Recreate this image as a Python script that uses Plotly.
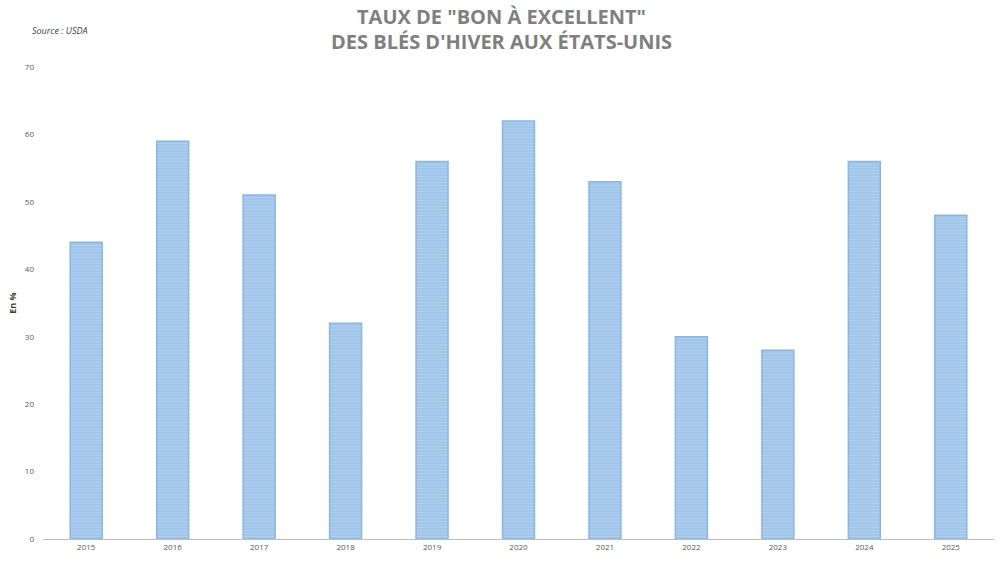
import plotly.graph_objects as go

years = ["2015", "2016", "2017", "2018", "2019", "2020", "2021", "2022", "2023", "2024", "2025"]
values = [44, 59, 51, 32, 56, 62, 53, 30, 28, 56, 48]
y_ticks = [0, 10, 20, 30, 40, 50, 60, 70]
title_lines = ['TAUX DE "BON À EXCELLENT"', "DES BLÉS D'HIVER AUX ÉTATS-UNIS"]

fig = go.Figure(go.Bar(
    x=years, y=values,
    marker=dict(
        color="#a2c6ea",
        line=dict(color="#8ab6e2", width=1.5),
        pattern=dict(shape="-", fgcolor="#bcd7f2", size=3, solidity=0.35),
    ),
    width=0.37,
    hoverinfo="x+y",
))

fig.update_layout(
    width=1000, height=562,
    paper_bgcolor="white", plot_bgcolor="white",
    margin=dict(l=43, r=6, t=67, b=23),
    showlegend=False,
    font=dict(family="Open Sans", size=8, color="#595959"),
)

for txt, yy in zip(title_lines, [1.106, 1.053]):
    fig.add_annotation(text="<b>" + txt + "</b>", xref="paper", yref="paper",
                       x=0.4816, y=yy, xanchor="center", yanchor="middle", showarrow=False,
                       font=dict(family="Open Sans", size=20, color="#7f7f7f"))

fig.add_annotation(text="<i>Source : USDA</i>", xref="paper", yref="paper",
                   x=-0.0137, y=1.078, xanchor="left", yanchor="middle", showarrow=False,
                   font=dict(size=9, color="#404040", family="Open Sans"))

fig.update_xaxes(
    showline=True, linecolor="#bfbfbf", linewidth=1,
    ticks="", showgrid=False,
    tickfont=dict(size=8, color="#595959"),
)
fig.update_yaxes(
    range=[0, 70], tickvals=y_ticks, showgrid=False, zeroline=False,
    showline=False, ticks="",
    tickfont=dict(size=8, color="#595959"),
    ticklabelstandoff=8,
    title=dict(text="<b>En %</b>", font=dict(size=9, color="#404040"), standoff=6),
)

fig.write_html("out.html", config={"displayModeBar": False},
               post_script="document.body.style.margin='0';")
